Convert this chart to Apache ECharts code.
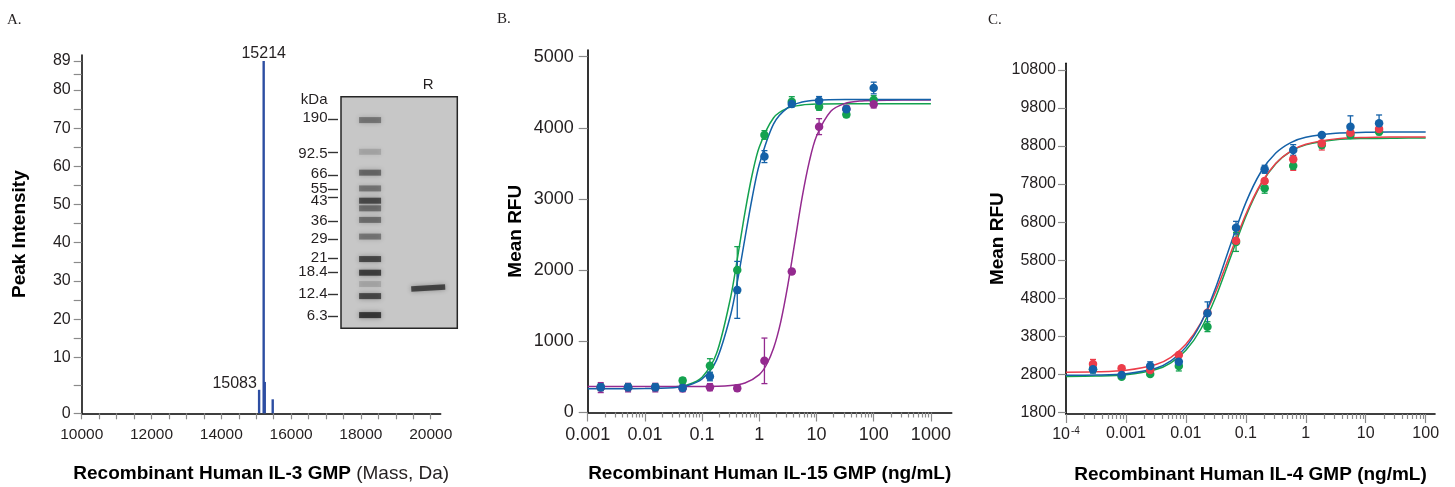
<!DOCTYPE html>
<html><head><meta charset="utf-8">
<script src="https://cdn.jsdelivr.net/npm/echarts@6/dist/echarts.min.js"></script>
<style>html,body{margin:0;padding:0;background:#fff}#c{width:1455px;height:487px}</style>
</head><body><div id="c"></div>
<script>
// ---------------- Panel A: mass spectrum ----------------
const massValues = [15083, 15214, 15245, 15473];
const peakIntensity = [4.2, 89, 5.6, 2.5];
const labeledMasses = [15083, 15214];
const massTickLabels = [10000, 12000, 14000, 16000, 18000, 20000];
const intensityTickLabels = [0, 10, 20, 30, 40, 50, 60, 70, 80, 89];
const intensityMinorTicks = [0, 5, 10, 15, 20, 25, 30, 35, 40, 45, 50, 55, 60, 65, 70, 75, 80, 85, 89];
// uneven intensity scale of the original instrument plot (value -> relative axis units)
const intensityScaleValues = [0, 10, 80, 89];
const intensityScaleUnits = [0, 56, 323.3, 352.3];

// ---------------- Panel A inset: SDS-PAGE gel ----------------
const markerKDa = ['190', '92.5', '66', '55', '43', '36', '29', '21', '18.4', '12.4', '6.3'];
const markerMigration = [9.6, 24.2, 33.8, 39.9, 43.4, 53.7, 61.4, 69.8, 75.8, 85.2, 94.6];
const markerLabelMigration = [9.3, 24.6, 33.4, 39.7, 45.0, 53.5, 61.3, 69.8, 75.8, 85.3, 94.7];
const gelLanes = ['', 'R'];
const ladderBandMigration = [10.1, 23.8, 32.8, 39.6, 44.9, 48.2, 53.2, 60.4, 70.1, 76.0, 80.9, 86.1, 94.3];
const ladderBandIntensity = [0.5, 0.2, 0.6, 0.5, 0.8, 0.55, 0.55, 0.5, 0.82, 0.9, 0.2, 0.82, 0.95];
const sampleBandMigration = [82.6];
const sampleBandIntensity = [0.85];

// ---------------- Panel B: IL-15 ----------------
const concB = [0.00169, 0.00508, 0.0152, 0.0457, 0.137, 0.412, 1.23, 3.70, 11.1, 33.3, 100];
const rfuB_blue = [356, 356, 356, 345, 506, 1723, 3596, 4336, 4382, 4261, 4560];
const errB_blue = [50, 50, 50, 40, 60, 400, 84, 40, 58, 40, 82];
const rfuB_green = [356, 356, 356, 449, 656, 2004, 3900, 4368, 4298, 4186, 4392];
const errB_green = [40, 40, 40, 40, 100, 327, 61, 70, 50, 40, 60];
const rfuB_purple = [350, 350, 350, 342, 356, 342, 726, 1980, 4017, 4270, 4330];
const errB_purple = [70, 60, 60, 50, 50, 40, 320, 30, 112, 40, 50];
const fitXB_blue = [0.001, 0.00316, 0.01, 0.0316, 0.0562, 0.1, 0.178, 0.316, 0.422, 0.562, 0.75, 1, 1.78, 3.16, 5.62, 10, 31.6, 100, 316, 1000];
const fitB_blue = [335, 335, 336, 349, 379, 470, 733, 1374, 1877, 2452, 3014, 3484, 4057, 4285, 4363, 4388, 4399, 4400, 4400, 4400];
const fitXB_green = [0.0316, 0.0562, 0.1, 0.178, 0.316, 0.422, 0.562, 0.75, 1, 1.78, 3.16, 5.62, 10, 31.6, 100, 316, 1000];
const fitB_green = [358, 390, 496, 824, 1621, 2205, 2813, 3341, 3732, 4142, 4280, 4322, 4335, 4340, 4340, 4340, 4340];
const fitXB_purple = [0.001, 0.01, 0.1, 0.316, 0.562, 1, 1.334, 1.78, 2.371, 3.16, 4.217, 5.62, 7.499, 10, 17.78, 31.6, 56.23, 100, 316, 1000];
const fitB_purple = [365, 365, 366, 379, 414, 533, 671, 905, 1274, 1792, 2413, 3026, 3529, 3882, 4232, 4344, 4377, 4386, 4390, 4390];
const xTicksB = [0.001, 0.01, 0.1, 1, 10, 100, 1000];
const xLabelsB = ['0.001', '0.01', '0.1', '1', '10', '100', '1000'];
const yTicksB = [0, 1000, 2000, 3000, 4000, 5000];

// ---------------- Panel C: IL-4 ----------------
const concC = [0.000282, 0.000847, 0.00254, 0.00762, 0.0229, 0.0686, 0.206, 0.617, 1.85, 5.56, 16.7];
const rfuC_blue = [2930, 2781, 3017, 3131, 4403, 6654, 8190, 8697, 9091, 9310, 9398];
const errC_blue = [100, 40, 110, 60, 300, 166, 105, 140, 40, 285, 219];
const rfuC_red = [3071, 2957, 2912, 3307, 4419, 6312, 7882, 8452, 8872, 9152, 9249];
const errC_red = [118, 40, 40, 40, 50, 60, 60, 290, 175, 50, 60];
const rfuC_green = [2930, 2736, 2807, 3017, 4051, 6280, 7690, 8284, 8828, 9091, 9179];
const errC_green = [50, 40, 40, 130, 130, 250, 130, 100, 80, 80, 80];
const fitXC = [0.0001, 0.000316, 0.001, 0.00316, 0.00562, 0.01, 0.0178, 0.0316, 0.0562, 0.1, 0.178, 0.316, 0.562, 1, 3.16, 10, 31.6, 100];
const fitC_blue = [2772, 2780, 2815, 2959, 3150, 3514, 4142, 5087, 6232, 7313, 8118, 8616, 8891, 9032, 9138, 9162, 9168, 9170];
const fitC_red = [2854, 2864, 2905, 3057, 3246, 3586, 4151, 4981, 5999, 7006, 7809, 8348, 8669, 8846, 8989, 9027, 9037, 9040];
const fitC_green = [2743, 2751, 2786, 2924, 3101, 3428, 3990, 4837, 5897, 6952, 7787, 8338, 8658, 8831, 8965, 8999, 9008, 9010];
const xTicksC = [0.0001, 0.001, 0.01, 0.1, 1, 10, 100];
const xLabelsC = ['10{s|-4}', '0.001', '0.01', '0.1', '1', '10', '100'];
const yTicksC = [1800, 2800, 3800, 4800, 5800, 6800, 7800, 8800, 9800, 10800];

// ---------------- helpers ----------------
const FONT = 'Liberation Sans';
const INK = '#231f20';
const TICKC = '#8a8a8a';
const BLUE = '#1461a8', GREEN = '#14a24f', PURPLE = '#942a8f', RED = '#ec3d4a', BAR = '#2d4ea2';

function toUnitsA(v) {
  for (let i = 0; i < intensityScaleValues.length - 1; i++) {
    const a = intensityScaleValues[i], b = intensityScaleValues[i + 1];
    if (v <= b || i === intensityScaleValues.length - 2) {
      const ua = intensityScaleUnits[i], ub = intensityScaleUnits[i + 1];
      return ua + (v - a) / (b - a) * (ub - ua);
    }
  }
}
function fromUnitsA(u) {
  for (let i = 0; i < intensityScaleUnits.length - 1; i++) {
    const a = intensityScaleUnits[i], b = intensityScaleUnits[i + 1];
    if (u <= b + 1e-6 || i === intensityScaleUnits.length - 2) {
      const va = intensityScaleValues[i], vb = intensityScaleValues[i + 1];
      return va + (u - a) / (b - a) * (vb - va);
    }
  }
}
function minorLogTicks(fromExp, toExp) {
  const out = [];
  for (let k = fromExp; k < toExp; k++) for (let m = 2; m <= 9; m++) out.push(+(m * Math.pow(10, k)).toPrecision(6));
  return out;
}
function labelFor(ticks, labels) {
  return v => {
    const i = ticks.findIndex(t => Math.abs(Math.log10(t) - Math.log10(v)) < 1e-6);
    return i >= 0 ? labels[i] : '';
  };
}
function pairs(xs, ys) { return xs.map((x, i) => [x, ys[i]]); }
function triples(xs, ys, es) { return xs.map((x, i) => [x, ys[i], es[i]]); }
function errorSeries(xi, yi, data, color) {
  return {
    type: 'custom', xAxisIndex: xi, yAxisIndex: yi, data: data, silent: true, z: 3,
    encode: { x: 0, y: 1 },
    renderItem: function (params, api) {
      const x = api.value(0), y = api.value(1), e = api.value(2);
      const top = api.coord([x, y + e]), bot = api.coord([x, y - e]);
      const hw = 3, st = { stroke: color, lineWidth: 1.3 };
      return { type: 'group', children: [
        { type: 'line', shape: { x1: top[0], y1: top[1], x2: bot[0], y2: bot[1] }, style: st },
        { type: 'line', shape: { x1: top[0] - hw, y1: top[1], x2: top[0] + hw, y2: top[1] }, style: st },
        { type: 'line', shape: { x1: bot[0] - hw, y1: bot[1], x2: bot[0] + hw, y2: bot[1] }, style: st }
      ] };
    }
  };
}
function doseSeries(xi, yi, conc, vals, errs, fitX, fitY, color) {
  return [
    { type: 'line', xAxisIndex: xi, yAxisIndex: yi, data: pairs(fitX, fitY), smooth: 0.3, showSymbol: false,
      lineStyle: { color: color, width: 1.5 }, itemStyle: { color: color }, silent: true, z: 2 },
    errorSeries(xi, yi, triples(conc, vals, errs), color),
    { type: 'scatter', xAxisIndex: xi, yAxisIndex: yi, data: pairs(conc, vals), symbol: 'circle', symbolSize: 8.5,
      itemStyle: { color: color, opacity: 1 }, z: 4 }
  ];
}
function logAxes(gridIndex, min, max, ticks, labels, minorTicks, fontSize, name, nameGap, labelMargin, rich) {
  const major = {
    type: 'log', logBase: 10, gridIndex: gridIndex, position: 'bottom', min: min, max: max,
    axisLine: { show: true, onZero: false, lineStyle: { color: '#000', width: 1.6 } },
    axisTick: { show: true, inside: false, length: 9, customValues: ticks, lineStyle: { color: TICKC, width: 1.2 } },
    axisLabel: { show: true, customValues: ticks, formatter: labelFor(ticks, labels), margin: labelMargin,
      fontFamily: FONT, fontSize: fontSize, color: INK, rich: rich || {} },
    splitLine: { show: false }, minorTick: { show: false },
    name: name, nameLocation: 'middle', nameGap: nameGap,
    nameTextStyle: { fontFamily: FONT, fontSize: 19, fontWeight: 'bold', color: '#000' }
  };
  const minor = {
    type: 'log', logBase: 10, gridIndex: gridIndex, position: 'bottom', min: min, max: max,
    axisLine: { show: false, onZero: false },
    axisTick: { show: true, inside: false, length: 5, customValues: minorTicks, lineStyle: { color: TICKC, width: 1.2 } },
    axisLabel: { show: false }, splitLine: { show: false }
  };
  return [major, minor];
}

// ---------------- option ----------------
const massTickAll = [];
for (let m = 10000; m <= 20000; m += 500) massTickAll.push(m);
const gelLabelPos = [1.4].concat(markerLabelMigration);
const gelLabelText = ['kDa'].concat(markerKDa);

const barData = massValues.map((m, i) => {
  const item = { value: [m, toUnitsA(peakIntensity[i])] };
  if (labeledMasses.indexOf(m) >= 0) {
    item.label = (peakIntensity[i] > 50)
      ? { show: true, position: 'top', distance: -1, formatter: p => String(p.value[0]), fontFamily: FONT, fontSize: 16, color: INK }
      : { show: true, position: [-1, -6], align: 'right', verticalAlign: 'middle', formatter: p => String(p.value[0]), fontFamily: FONT, fontSize: 16, color: INK };
  }
  return item;
});
const bandData = ladderBandMigration.map((p, i) => [0, p, ladderBandIntensity[i]])
  .concat(sampleBandMigration.map((p, i) => [1, p, sampleBandIntensity[i]]));

const [xB, xBminor] = logAxes(2, 0.001, 2311, xTicksB, xLabelsB, minorLogTicks(-3, 3), 18,
  'Recombinant Human IL-15 GMP (ng/mL)', 52, 14);
const [xC, xCminor] = logAxes(3, 0.0001, 143, xTicksC, xLabelsC, minorLogTicks(-4, 2), 16,
  'Recombinant Human IL-4 GMP (ng/mL)', 51, 12,
  { s: { fontFamily: FONT, fontSize: 10, color: INK, padding: [0, 0, 8, 1] } });

const option = {
  animation: false,
  backgroundColor: '#ffffff',
  title: [
    { text: 'A.', left: 7, top: 13, padding: 0, textStyle: { fontFamily: 'Liberation Serif', fontSize: 15, fontWeight: 'normal', color: INK } },
    { text: 'B.', left: 497, top: 12, padding: 0, textStyle: { fontFamily: 'Liberation Serif', fontSize: 15, fontWeight: 'normal', color: INK } },
    { text: 'C.', left: 988, top: 13, padding: 0, textStyle: { fontFamily: 'Liberation Serif', fontSize: 15, fontWeight: 'normal', color: INK } }
  ],
  grid: [
    { left: 81.7, top: 55, width: 359, height: 358.3, containLabel: false, outerBoundsMode: 'none' },
    { left: 341, top: 96.7, width: 116.3, height: 231.6, show: true, backgroundColor: '#c7c7c7', borderColor: '#262626', borderWidth: 1.5, containLabel: false, outerBoundsMode: 'none' },
    { left: 587.7, top: 50, width: 364, height: 362.5, containLabel: false, outerBoundsMode: 'none' },
    { left: 1066, top: 63.3, width: 369, height: 350.7, containLabel: false, outerBoundsMode: 'none' }
  ],
  xAxis: [
    { type: 'value', gridIndex: 0, position: 'bottom', min: 10000, max: 20286,
      axisLine: { show: true, onZero: false, lineStyle: { color: '#000', width: 1.5 } },
      axisTick: { show: true, length: 6, customValues: massTickAll, lineStyle: { color: TICKC, width: 1.2 } },
      axisLabel: { customValues: massTickLabels, formatter: v => String(v), margin: 13, fontFamily: FONT, fontSize: 15.5, color: INK },
      splitLine: { show: false },
      name: '{b|Recombinant Human IL-3 GMP}{n| (Mass, Da)}', nameLocation: 'middle', nameGap: 51,
      nameTextStyle: { rich: {
        b: { fontFamily: FONT, fontSize: 19, fontWeight: 'bold', color: '#000' },
        n: { fontFamily: FONT, fontSize: 19, fontWeight: 'normal', color: INK } } } },
    { type: 'category', gridIndex: 1, position: 'top', data: gelLanes,
      axisLine: { show: false, onZero: false }, axisTick: { show: false },
      axisLabel: { show: true, margin: 4, fontFamily: FONT, fontSize: 15, color: INK }, splitLine: { show: false } },
    xB, xBminor, xC, xCminor
  ],
  yAxis: [
    { type: 'value', gridIndex: 0, min: 0, max: 358.3,
      axisLine: { show: true, onZero: false, lineStyle: { color: '#000', width: 1.5 } },
      axisTick: { show: true, length: 8, customValues: intensityMinorTicks.map(toUnitsA), lineStyle: { color: TICKC, width: 1.2 } },
      axisLabel: { customValues: intensityTickLabels.map(toUnitsA), formatter: u => String(Math.round(fromUnitsA(u))),
        margin: 11, fontFamily: FONT, fontSize: 16, color: INK },
      splitLine: { show: false },
      name: 'Peak Intensity', nameLocation: 'middle', nameGap: 52,
      nameTextStyle: { fontFamily: FONT, fontSize: 19, fontWeight: 'bold', color: '#000' } },
    { type: 'value', gridIndex: 1, min: 0, max: 100, inverse: true, offset: 3,
      axisLine: { show: false, onZero: false },
      axisTick: { show: true, length: 10, customValues: markerMigration, lineStyle: { color: '#333', width: 1.4 } },
      axisLabel: { customValues: gelLabelPos, formatter: v => { const i = gelLabelPos.findIndex(p => Math.abs(p - v) < 1e-6); return i >= 0 ? gelLabelText[i] : ''; },
        margin: 10.5, fontFamily: FONT, fontSize: 15, color: INK },
      splitLine: { show: false } },
    { type: 'value', gridIndex: 2, min: 0, max: 5094,
      axisLine: { show: true, onZero: false, lineStyle: { color: '#000', width: 1.6 } },
      axisTick: { show: true, length: 9, customValues: yTicksB, lineStyle: { color: TICKC, width: 1.2 } },
      axisLabel: { customValues: yTicksB, formatter: v => String(v), margin: 14, fontFamily: FONT, fontSize: 18, color: INK },
      splitLine: { show: false },
      name: 'Mean RFU', nameLocation: 'middle', nameGap: 62,
      nameTextStyle: { fontFamily: FONT, fontSize: 19, fontWeight: 'bold', color: '#000' } },
    { type: 'value', gridIndex: 3, min: 1755, max: 10976,
      axisLine: { show: true, onZero: false, lineStyle: { color: '#000', width: 1.6 } },
      axisTick: { show: true, length: 8, customValues: yTicksC, lineStyle: { color: TICKC, width: 1.2 } },
      axisLabel: { customValues: yTicksC, formatter: v => String(v), margin: 10, fontFamily: FONT, fontSize: 16, color: INK },
      splitLine: { show: false },
      name: 'Mean RFU', nameLocation: 'middle', nameGap: 55,
      nameTextStyle: { fontFamily: FONT, fontSize: 19, fontWeight: 'bold', color: '#000' } }
  ],
  series: [
    { type: 'bar', xAxisIndex: 0, yAxisIndex: 0, data: barData, barWidth: 2.4, itemStyle: { color: BAR } },
    { type: 'scatter', xAxisIndex: 1, yAxisIndex: 1, data: bandData, symbol: 'rect',
      symbolSize: v => v[0] === 0 ? [22, 6] : [34, 5.5],
      symbolRotate: v => v[0] === 0 ? 0 : 3,
      itemStyle: { color: p => 'rgba(22,22,22,' + p.value[2] + ')', shadowBlur: 5, shadowColor: 'rgba(0,0,0,0.45)' } }
  ]
    .concat(doseSeries(2, 2, concB, rfuB_green, errB_green, fitXB_green, fitB_green, GREEN))
    .concat(doseSeries(2, 2, concB, rfuB_purple, errB_purple, fitXB_purple, fitB_purple, PURPLE))
    .concat(doseSeries(2, 2, concB, rfuB_blue, errB_blue, fitXB_blue, fitB_blue, BLUE))
    .concat(doseSeries(4, 3, concC, rfuC_green, errC_green, fitXC, fitC_green, GREEN))
    .concat(doseSeries(4, 3, concC, rfuC_red, errC_red, fitXC, fitC_red, RED))
    .concat(doseSeries(4, 3, concC, rfuC_blue, errC_blue, fitXC, fitC_blue, BLUE))
};

const chart = echarts.init(document.getElementById('c'));
chart.setOption(option);
</script>
</body></html>
